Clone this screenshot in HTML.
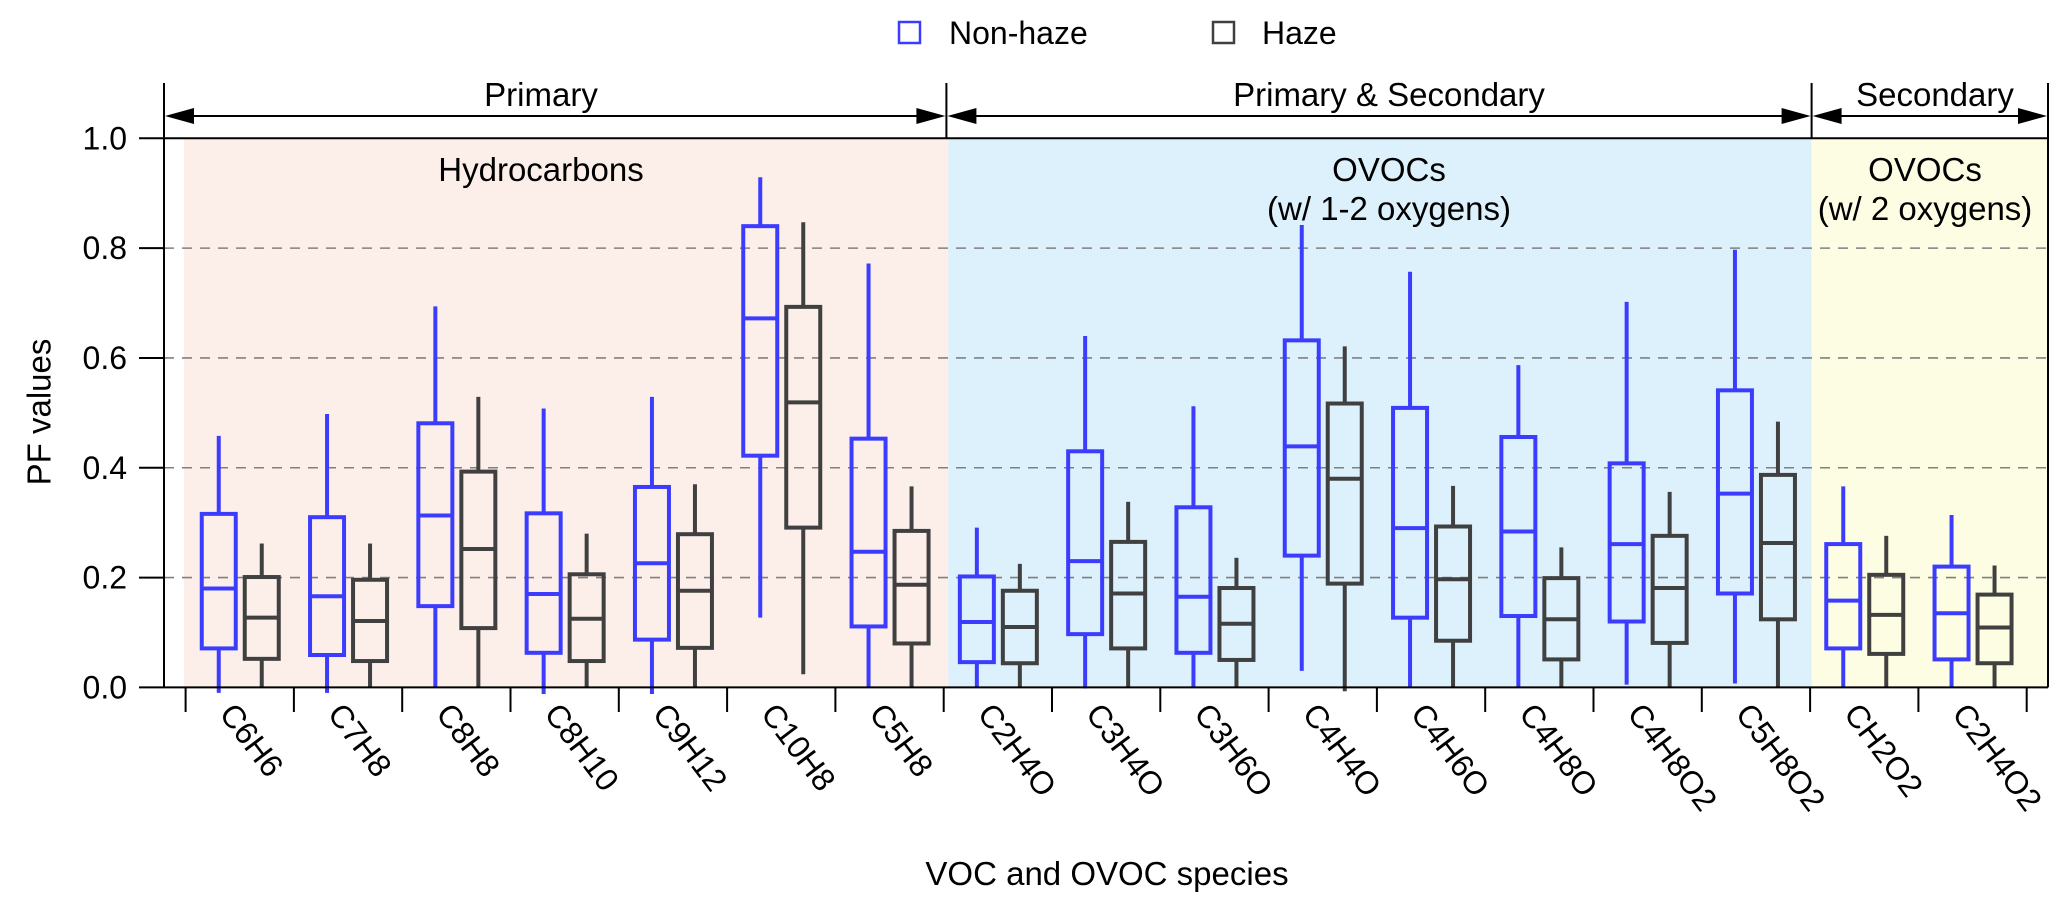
<!DOCTYPE html>
<html><head><meta charset="utf-8"><style>
html,body{margin:0;padding:0;background:#fff;}
svg{display:block;font-family:"Liberation Sans",Arial,sans-serif;}
</style></head><body>
<svg id="chart" width="2067" height="911" viewBox="0 0 2067 911" xmlns="http://www.w3.org/2000/svg">
<g id="bg"></g><g id="grid"></g><g id="boxes"></g><g id="axes"></g>
</svg>
<script>
const categories=["C6H6","C7H8","C8H8","C8H10","C9H12","C10H8","C5H8","C2H4O","C3H4O","C3H6O","C4H4O","C4H6O","C4H8O","C4H8O2","C5H8O2","CH2O2","C2H4O2"];
// [min, q1, median, q3, max]
const nonHaze=[
[-0.01,0.071,0.18,0.316,0.458],[-0.01,0.059,0.166,0.31,0.498],[0,0.148,0.313,0.481,0.694],
[-0.012,0.063,0.17,0.317,0.508],[-0.012,0.087,0.226,0.365,0.529],[0.127,0.422,0.672,0.84,0.929],
[0,0.111,0.247,0.453,0.772],[0,0.046,0.119,0.202,0.291],[-0.002,0.097,0.23,0.43,0.64],
[0,0.063,0.165,0.328,0.512],[0.03,0.24,0.439,0.632,0.842],[0,0.127,0.29,0.509,0.757],
[0,0.13,0.284,0.456,0.587],[0.005,0.12,0.261,0.408,0.702],[0.007,0.171,0.353,0.541,0.797],
[0,0.071,0.158,0.261,0.366],[0,0.051,0.135,0.22,0.314]];
const haze=[
[0,0.052,0.127,0.201,0.262],[0,0.048,0.121,0.196,0.262],[0,0.108,0.252,0.393,0.529],
[0,0.048,0.125,0.206,0.28],[0,0.072,0.176,0.279,0.37],[0.024,0.291,0.519,0.693,0.847],
[0,0.08,0.187,0.285,0.366],[0,0.044,0.11,0.176,0.225],[0,0.071,0.171,0.265,0.338],
[0,0.05,0.116,0.181,0.236],[-0.007,0.189,0.38,0.517,0.621],[0,0.085,0.197,0.293,0.367],
[0,0.051,0.124,0.199,0.255],[0,0.081,0.181,0.276,0.356],[0,0.124,0.263,0.387,0.484],
[0,0.061,0.132,0.205,0.276],[0,0.044,0.109,0.169,0.222]];
const yTicks=[0,0.2,0.4,0.6,0.8,1.0];
const gridVals=[0.2,0.4,0.6,0.8];

const NS="http://www.w3.org/2000/svg";
const X0=185.6, STEP=108.3, LEFT=164, RIGHT=2048;
const Y0=687.4, Y1=138.3;
function y(v){return Y0-(Y0-Y1)*v;}
function xc(i){return X0+STEP*(i+0.5);}
function mk(tag,attrs,parent,txt){const e=document.createElementNS(NS,tag);for(const k in attrs)e.setAttribute(k,attrs[k]);if(txt!==undefined)e.textContent=txt;parent.appendChild(e);return e;}
const bg=document.getElementById('bg'),grid=document.getElementById('grid'),boxes=document.getElementById('boxes'),axes=document.getElementById('axes');

let r;
r=mk('rect',{x:184,y:y(1),width:948.3-184,height:Y0-y(1),fill:'#fcefea'},bg);


r=mk('rect',{x:948.3,y:y(1),width:1811.6-948.3,height:Y0-y(1),fill:'#dcf1fb'},bg);


r=mk('rect',{x:1811.6,y:y(1),width:RIGHT-1811.6,height:Y0-y(1),fill:'#fdfde3'},bg);



gridVals.forEach(v=>{
  const l=mk('line',{x1:LEFT,x2:RIGHT,y1:y(v),y2:y(v),stroke:'#808080','stroke-width':1.6,'stroke-dasharray':'10,8'},grid);
  
  
});

function drawBox(i,d,off,col,name){
  const cx=xc(i)+off, w=34;
  const g=mk('g',{},boxes);
  
  
  mk('line',{x1:cx,x2:cx,y1:y(d[0]),y2:y(d[1]),stroke:col,'stroke-width':4},g);
  mk('line',{x1:cx,x2:cx,y1:y(d[3]),y2:y(d[4]),stroke:col,'stroke-width':4},g);
  mk('rect',{x:cx-w/2,y:y(d[3]),width:w,height:y(d[1])-y(d[3]),fill:'none',stroke:col,'stroke-width':4},g);
  mk('line',{x1:cx-w/2,x2:cx+w/2,y1:y(d[2]),y2:y(d[2]),stroke:col,'stroke-width':4},g);
}
categories.forEach((c,i)=>{
  drawBox(i,nonHaze[i],-21,'#3c3cff','non-haze');
  drawBox(i,haze[i],22,'#404040','haze');
});

function ln(x1,y1,x2,y2,name,w){const l=mk('line',{x1,y1,x2,y2,stroke:'#000','stroke-width':w||2},axes);return l;}
ln(LEFT,Y0,RIGHT,Y0,'x-axis-line');
ln(LEFT,y(1),RIGHT,y(1),'top-spine');
ln(LEFT,83,LEFT,Y0,'y-axis-line');
ln(RIGHT,83,RIGHT,Y0,'right-spine');
ln(946.4,83,946.4,y(1),'primary-divider');
ln(1811.6,83,1811.6,y(1),'secondary-divider');
yTicks.forEach(v=>{
  ln(139,y(v),LEFT,y(v),'y-tick');
  const t=mk('text',{x:127,y:y(v)+11,'text-anchor':'end','font-size':32},axes,v.toFixed(1));
  
  
});
for(let k=0;k<=categories.length;k++){ln(X0+STEP*k,Y0,X0+STEP*k,712,'x-tick');}
categories.forEach((c,i)=>{
  const x=xc(i)-3, yy=700;
  const t=mk('text',{x:x,y:yy,'font-size':32,transform:`rotate(53 ${x} ${yy})`,'dominant-baseline':'hanging'},axes,c);
  
  
});
function arrow(x1,x2,name){
  const g=mk('g',{},axes);
  
  
  const yy=116;
  mk('line',{x1:x1+20,x2:x2-20,y1:yy,y2:yy,stroke:'#000','stroke-width':2},g);
  mk('polygon',{points:`${x1+1},${yy} ${x1+30},${yy-8} ${x1+30},${yy+8}`,fill:'#000'},g);
  mk('polygon',{points:`${x2-1},${yy} ${x2-30},${yy-8} ${x2-30},${yy+8}`,fill:'#000'},g);
}
arrow(LEFT,946.4,'primary-arrow');arrow(946.4,1811.6,'primary-secondary-arrow');arrow(1811.6,RIGHT,'secondary-arrow');
function txt(x,yy,s,name,size,anchor){const t=mk('text',{x,y:yy,'text-anchor':anchor||'middle','font-size':size||32},axes,s);return t;}
txt(541,106,'Primary','primary-label',33);
txt(1389,106,'Primary & Secondary','primary-secondary-label',33);
txt(1935,106,'Secondary','secondary-label',33);
txt(541,181,'Hydrocarbons','hydrocarbons-label',33);
txt(1389,181,'OVOCs','ovocs-label',33);
txt(1389,220,'(w/ 1-2 oxygens)','ovocs-oxygen-label',33);
txt(1925,181,'OVOCs','ovocs2-label',33);
txt(1925,220,'(w/ 2 oxygens)','ovocs2-oxygen-label',33);
txt(1107,885,'VOC and OVOC species','x-axis-title',33);
const yl=txt(42,412,'PF values','y-axis-title',33);
yl.setAttribute('transform','rotate(-90 42 412)');yl.setAttribute('dominant-baseline','middle');
const lg=mk('g',{},axes);


let s=mk('rect',{x:899,y:22,width:21,height:21,fill:'none',stroke:'#3c3cff','stroke-width':2.5},lg);


txt(949,44,'Non-haze','legend-non-haze',32,'start');
s=mk('rect',{x:1213,y:22,width:21,height:21,fill:'none',stroke:'#404040','stroke-width':2.5},lg);


txt(1262,44,'Haze','legend-haze',32,'start');
</script>
</body></html>
